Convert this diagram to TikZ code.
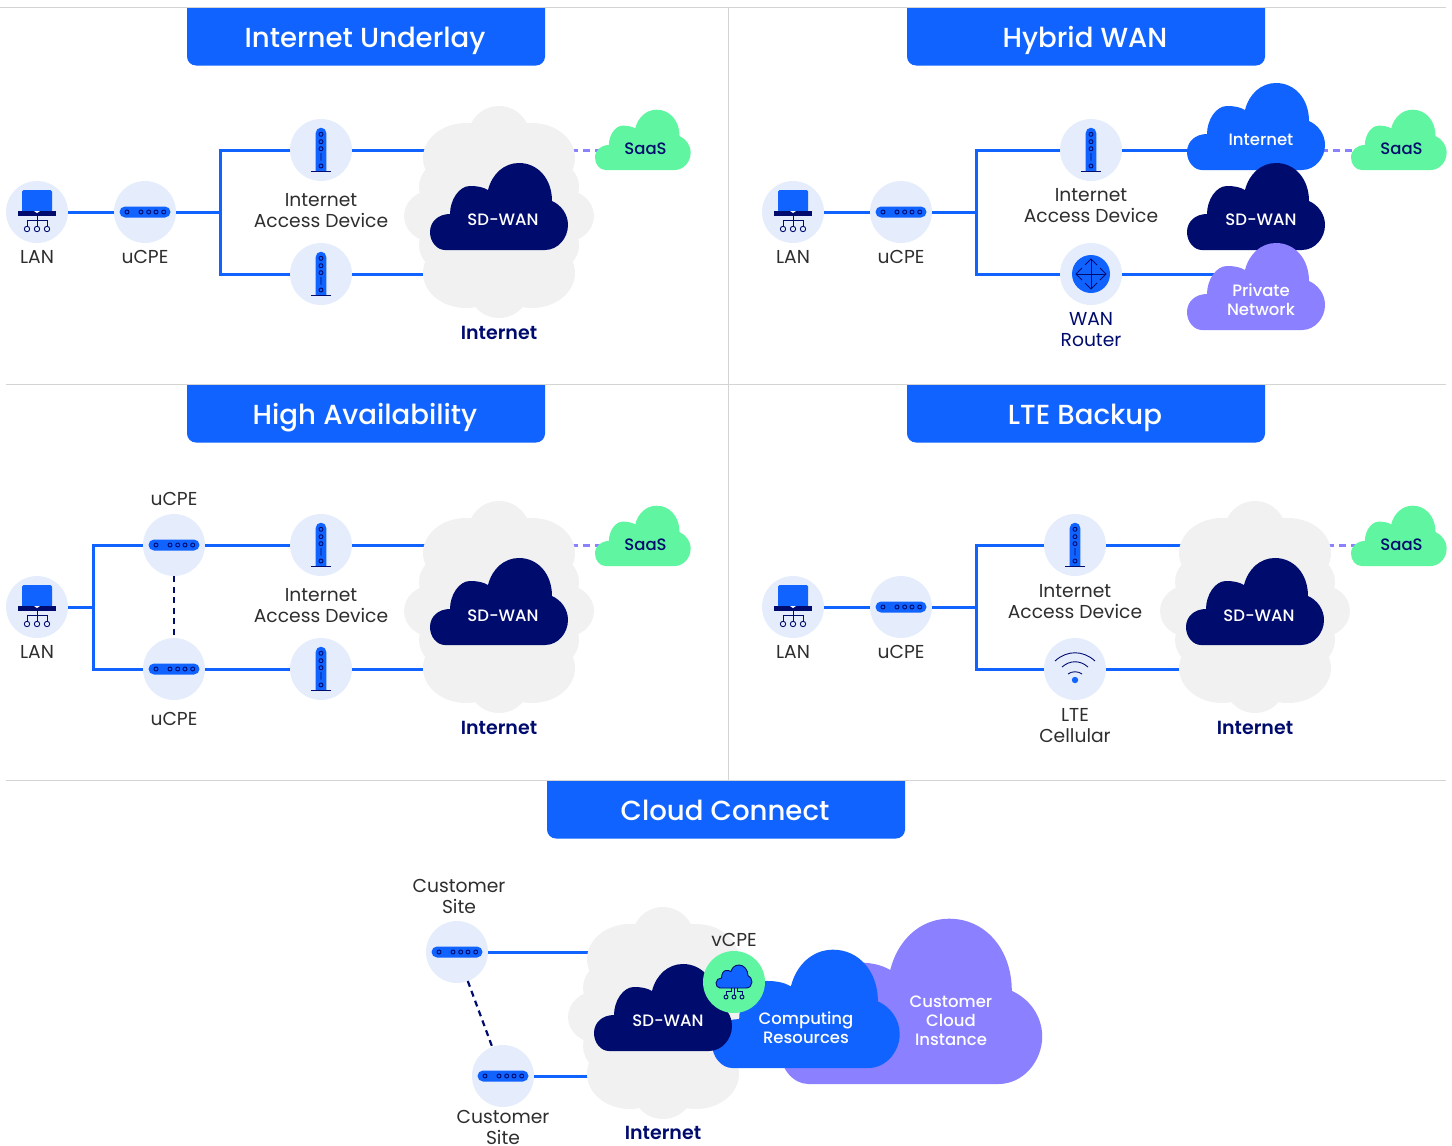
\documentclass[tikz,border=0pt]{standalone}
\usepackage{fontspec}
\setmainfont{Poppins}[UprightFont=* Medium,BoldFont=* SemiBold]
\newfontfamily\lightfont{Poppins}
\definecolor{mainblue}{HTML}{1063FF}
\definecolor{deepnavy}{HTML}{000B6E}
\definecolor{softpurple}{HTML}{8B80FF}
\definecolor{mintgreen}{HTML}{60F5A0}
\definecolor{palegrey}{HTML}{F1F1F1}
\definecolor{paleblue}{HTML}{E5EDFD}
\definecolor{rulegrey}{HTML}{D4D4D4}
\definecolor{labeltext}{HTML}{2E2E2E}
\tikzset{
	device/.style={circle,fill=paleblue,minimum size=62pt,inner sep=0pt,outer sep=0pt},
	link/.style={draw=mainblue,line width=3pt},
	saaslink/.style={draw=softpurple,line width=3pt,dash pattern=on 7pt off 5pt},
	backup/.style={draw=deepnavy,line width=2.2pt,dash pattern=on 6pt off 4.5pt},
	rule/.style={draw=rulegrey,line width=1pt},
	titletext/.style={text=white,anchor=base,font=\fontsize{27.6}{30}\selectfont},
	devlabel/.style={text=labeltext,align=center,inner sep=0pt,font=\lightfont\fontsize{18.7}{21}\selectfont},
	navylabel/.style={devlabel,text=deepnavy},
	netlabel/.style={text=deepnavy,inner sep=0pt,font=\bfseries\fontsize{19}{21}\selectfont},
	cloudtext/.style={text=white,align=center,inner sep=0pt,font=\fontsize{16.5}{19}\selectfont},
	saastext/.style={text=deepnavy,inner sep=0pt,font=\fontsize{16.5}{19}\selectfont},
	iconline/.style={draw=deepnavy,line width=0.9pt},
	titlebar/.pic={
		\fill[mainblue] (0,0) [rounded corners=9pt] -- (0,57.5) -- (358,57.5) [sharp corners] -- (358,0) -- cycle;
	},
	cloudshape/.pic={
		\path[pic actions] (15,0) -- (115,0) .. controls (128,0) and (138,-12) .. (138,-25)
			.. controls (138,-36) and (131,-45) .. (122,-49)
			.. controls (122,-71) and (108,-87) .. (89,-87)
			.. controls (74,-87) and (62,-76) .. (58,-60)
			.. controls (53,-63) and (47,-64) .. (40,-64)
			.. controls (29,-64) and (20,-50) .. (20,-36)
			.. controls (9,-36) and (0,-29) .. (0,-18)
			.. controls (0,-8) and (7,0) .. (15,0) -- cycle;
	},
	netcloud/.pic={
		\fill[palegrey] (0,-75) circle [radius=31pt];
		\fill[palegrey] (0,75) circle [radius=31pt];
		\fill[palegrey] (-33,-54) ellipse [x radius=43pt,y radius=35pt];
		\fill[palegrey] (33,-54) ellipse [x radius=43pt,y radius=35pt];
		\fill[palegrey] (-33,61) ellipse [x radius=43pt,y radius=35pt];
		\fill[palegrey] (33,61) ellipse [x radius=43pt,y radius=35pt];
		\fill[palegrey] (-54,-25) circle [radius=26pt];
		\fill[palegrey] (54,-25) circle [radius=26pt];
		\fill[palegrey] (-54,33) circle [radius=26pt];
		\fill[palegrey] (54,33) circle [radius=26pt];
		\fill[palegrey] (-66,4) ellipse [x radius=29pt,y radius=26pt];
		\fill[palegrey] (66,4) ellipse [x radius=29pt,y radius=26pt];
		\fill[palegrey] (-50,-50) rectangle (50,70);
	},
	lanicon/.pic={
		\fill[mainblue,rounded corners=1.5pt] (-15,-22) rectangle (15,0);
		\fill[deepnavy] (-19,-1) rectangle (19,4);
		\fill[white] (-3,-1) -- (3,-1) -- (0,1) -- cycle;
		\draw[iconline] (0,4) -- (0,8) (-10,8) -- (10,8);
		\draw[iconline] (-10,8) -- (-10,14) (0,8) -- (0,14) (10,8) -- (10,14);
		\draw[iconline] (-10,17) circle [radius=2.7pt] (0,17) circle [radius=2.7pt] (10,17) circle [radius=2.7pt];
	},
	ucpeicon/.pic={
		\fill[mainblue,rounded corners=5.5pt] (-25.5,-5.5) rectangle (25.5,5.5);
		\draw[iconline] (-18,0) circle [radius=2pt] (-4,0) circle [radius=2pt] (3.7,0) circle [radius=2pt]
			(11,0) circle [radius=2pt] (18.7,0) circle [radius=2pt];
	},
	iadicon/.pic={
		\fill[mainblue] (-5.3,21) -- (-5.3,-17) arc [start angle=180,end angle=0,radius=5.3pt] -- (5.3,21) -- cycle;
		\draw[iconline] (-10,21) -- (10,21);
		\draw[iconline] (0,-15.7) circle [radius=2pt] (0,-8.3) circle [radius=2pt] (0,-1.3) circle [radius=2pt]
			(0,3) -- (0,10.7) (0,16) circle [radius=2pt];
	},
	wanicon/.pic={
		\fill[mainblue] (0,0) circle [radius=19pt];
		\draw[iconline] (-15,0) -- (15,0) (0,-15) -- (0,15);
		\draw[iconline] (-6,-9) -- (0,-15) -- (6,-9) (-6,9) -- (0,15) -- (6,9);
		\draw[iconline] (-9,-6) -- (-15,0) -- (-9,6) (9,-6) -- (15,0) -- (9,6);
	},
	lteicon/.pic={
		\fill[mainblue] (0,11) circle [radius=3.2pt];
		\draw[iconline] (-20,-8) .. controls (-8,-19) and (8,-19) .. (20,-8);
		\draw[iconline] (-13,-2) .. controls (-5,-9) and (5,-9) .. (13,-2);
		\draw[iconline] (-7,5) .. controls (-3,2) and (3,2) .. (7,5);
	},
	vcpeicon/.pic={
		% kleine Wolke
		\path[fill=mainblue,iconline] (-14,6) -- (12.5,6) .. controls (15.5,6) and (18,3) .. (18,0)
			.. controls (18,-3) and (16,-5.5) .. (14,-6.5)
			.. controls (14,-12) and (10,-17) .. (5,-17)
			.. controls (1,-17) and (-2,-14.5) .. (-3,-10.5)
			.. controls (-4.5,-11.5) and (-6,-11.5) .. (-8,-11.5)
			.. controls (-10.5,-11.5) and (-12.5,-8) .. (-12.5,-4)
			.. controls (-15.5,-4) and (-18,-2) .. (-18,1)
			.. controls (-18,3.5) and (-16.5,6) .. (-14,6) -- cycle;
		\draw[iconline] (-8,15) circle [radius=2pt] (0,15) circle [radius=2pt] (8,15) circle [radius=2pt];
		\draw[iconline] (0,6) -- (0,13) (-3,6) -- (-3,9) -- (-8,9) -- (-8,13) (3,6) -- (3,9) -- (8,9) -- (8,13);
	},
}
\begin{document}
\begin{tikzpicture}[x=1pt,y=-1pt]
	\useasboundingbox (0,0) rectangle (1452,1146);
	% Trennlinien
	\coordinate (ruleTop) at (0,7);
	\coordinate (ruleTopEnd) at (1446,7);
	\coordinate (ruleMid) at (6,384);
	\coordinate (ruleMidEnd) at (1446,384);
	\coordinate (ruleLow) at (6,780);
	\coordinate (ruleLowEnd) at (1446,780);
	\coordinate (ruleVert) at (728,7);
	\coordinate (ruleVertEnd) at (728,780);
	\draw[rule] (ruleTop) -- (ruleTopEnd);
	\draw[rule] (ruleMid) -- (ruleMidEnd);
	\draw[rule] (ruleLow) -- (ruleLowEnd);
	\draw[rule] (ruleVert) -- (ruleVertEnd);
	\pic at (187,8) {titlebar};
	\pic at (907,8) {titlebar};
	\pic at (187,385) {titlebar};
	\pic at (907,385) {titlebar};
	\pic at (547,781) {titlebar};
	\node[titletext] (titleA) at (365,47) {Internet Underlay};
	\node[titletext] (titleB) at (1085,47) {Hybrid WAN};
	\node[titletext] (titleC) at (365,424) {High Availability};
	\node[titletext] (titleD) at (1085,424) {LTE Backup};
	\node[titletext] (titleE) at (725,820) {Cloud Connect};

	% oben links
	\node[device] (lanA) at (37,212) {};
	\node[device] (ucpeA) at (145,212) {};
	\node[device] (iadA) at (321,150) {};
	\node[device] (iadAb) at (321,274) {};
	\coordinate (jctA) at (220,212);
	\coordinate (inetA) at (499,212);
	\coordinate (saasA) at (645,150);
	\draw[link] (lanA) -- (ucpeA);
	\draw[link] (ucpeA) -- (jctA);
	\draw[link] (iadA) -| (jctA) |- (iadAb);
	\draw[link] (iadA) -- (iadA -| inetA);
	\draw[link] (iadAb) -- (iadAb -| inetA);
	\draw[saaslink] (inetA |- saasA) -- (saasA);
	\pic at (lanA) {lanicon};
	\pic at (ucpeA) {ucpeicon};
	\pic at (iadA) {iadicon};
	\pic at (iadAb) {iadicon};
	\pic at (inetA) {netcloud};
	\pic[fill=deepnavy] at (430,250) {cloudshape};
	\pic[fill=mintgreen,scale=0.693] at (595,170) {cloudshape};
	\node[devlabel] (lblLanA) at (37,257) {LAN};
	\node[devlabel] (lblUcpeA) at (145,257) {uCPE};
	\node[devlabel] (lblIadA) at (321,211) {Internet\\Access Device};
	\node[netlabel] (lblInetA) at (499,333) {Internet};
	\node[cloudtext] (sdwanA) at (503,220) {SD-WAN};
	\node[saastext] (lblSaasA) at (645.5,149) {SaaS};

	% oben rechts
	\node[device] (lanB) at (793,212) {};
	\node[device] (ucpeB) at (901,212) {};
	\node[device] (iadB) at (1091,150) {};
	\node[device] (wanB) at (1091,274) {};
	\coordinate (jctB) at (976,212);
	\coordinate (inetB) at (1261,150);
	\coordinate (privB) at (1261,274);
	\coordinate (saasB) at (1401,150);
	\draw[link] (lanB) -- (ucpeB);
	\draw[link] (ucpeB) -- (jctB);
	\draw[link] (iadB) -| (jctB) |- (wanB);
	\draw[link] (iadB) -- (inetB);
	\draw[link] (wanB) -- (privB);
	\draw[saaslink] (inetB) -- (saasB);
	\pic at (lanB) {lanicon};
	\pic at (ucpeB) {ucpeicon};
	\pic at (iadB) {iadicon};
	\pic at (wanB) {wanicon};
	\pic[fill=mainblue] at (1187,170) {cloudshape};
	\pic[fill=deepnavy] at (1187,250) {cloudshape};
	\pic[fill=softpurple] at (1187,330) {cloudshape};
	\pic[fill=mintgreen,scale=0.693] at (1351,170) {cloudshape};
	\node[devlabel] (lblLanB) at (793,257) {LAN};
	\node[devlabel] (lblUcpeB) at (901,257) {uCPE};
	\node[devlabel] (lblIadB) at (1091,206) {Internet\\Access Device};
	\node[navylabel] (lblWanB) at (1091,330) {WAN\\Router};
	\node[cloudtext] (inetTextB) at (1261,140) {Internet};
	\node[cloudtext] (sdwanB) at (1261,220) {SD-WAN};
	\node[cloudtext] (privTextB) at (1261,299.5) {Private\\Network};
	\node[saastext] (lblSaasB) at (1401.5,149) {SaaS};

	% unten links
	\node[device] (lanC) at (37,607) {};
	\node[device] (ucpeC) at (174,545) {};
	\node[device] (ucpeCb) at (174,669) {};
	\node[device] (iadC) at (321,545) {};
	\node[device] (iadCb) at (321,669) {};
	\coordinate (jctC) at (93,607);
	\coordinate (inetC) at (499,607);
	\coordinate (saasC) at (645,545);
	\draw[link] (lanC) -- (jctC);
	\draw[link] (ucpeC) -| (jctC) |- (ucpeCb);
	\draw[link] (ucpeC) -- (iadC);
	\draw[link] (ucpeCb) -- (iadCb);
	\draw[backup] (ucpeC) -- (ucpeCb);
	\draw[link] (iadC) -- (iadC -| inetC);
	\draw[link] (iadCb) -- (iadCb -| inetC);
	\draw[saaslink] (inetC |- saasC) -- (saasC);
	\pic at (lanC) {lanicon};
	\pic at (ucpeC) {ucpeicon};
	\pic at (ucpeCb) {ucpeicon};
	\pic at (iadC) {iadicon};
	\pic at (iadCb) {iadicon};
	\pic at (inetC) {netcloud};
	\pic[fill=deepnavy] at (430,645) {cloudshape};
	\pic[fill=mintgreen,scale=0.693] at (595,566) {cloudshape};
	\node[devlabel] (lblLanC) at (37,652) {LAN};
	\node[devlabel] (lblUcpeC) at (174,499) {uCPE};
	\node[devlabel] (lblUcpeCb) at (174,719) {uCPE};
	\node[devlabel] (lblIadC) at (321,606) {Internet\\Access Device};
	\node[netlabel] (lblInetC) at (499,728) {Internet};
	\node[cloudtext] (sdwanC) at (503,616) {SD-WAN};
	\node[saastext] (lblSaasC) at (645.5,545) {SaaS};

	% unten rechts
	\node[device] (lanD) at (793,607) {};
	\node[device] (ucpeD) at (901,607) {};
	\node[device] (iadD) at (1075,545) {};
	\node[device] (lteD) at (1075,669) {};
	\coordinate (jctD) at (976,607);
	\coordinate (inetD) at (1255,607);
	\coordinate (saasD) at (1401,545);
	\draw[link] (lanD) -- (ucpeD);
	\draw[link] (ucpeD) -- (jctD);
	\draw[link] (iadD) -| (jctD) |- (lteD);
	\draw[link] (iadD) -- (iadD -| inetD);
	\draw[link] (lteD) -- (lteD -| inetD);
	\draw[saaslink] (inetD |- saasD) -- (saasD);
	\pic at (lanD) {lanicon};
	\pic at (ucpeD) {ucpeicon};
	\pic at (iadD) {iadicon};
	\pic at (lteD) {lteicon};
	\pic at (inetD) {netcloud};
	\pic[fill=deepnavy] at (1186,645) {cloudshape};
	\pic[fill=mintgreen,scale=0.693] at (1351,566) {cloudshape};
	\node[devlabel] (lblLanD) at (793,652) {LAN};
	\node[devlabel] (lblUcpeD) at (901,652) {uCPE};
	\node[devlabel] (lblIadD) at (1075,602) {Internet\\Access Device};
	\node[devlabel] (lblLteD) at (1075,726) {LTE\\Cellular};
	\node[netlabel] (lblInetD) at (1255,728) {Internet};
	\node[cloudtext] (sdwanD) at (1259,616) {SD-WAN};
	\node[saastext] (lblSaasD) at (1401.5,545) {SaaS};

	% unten Mitte
	\node[device] (siteE) at (457,952) {};
	\node[device] (siteEb) at (503,1076) {};
	\coordinate (inetE) at (663,1013);
	\draw[link] (siteE) -- (siteE -| inetE);
	\draw[link] (siteEb) -- (siteEb -| inetE);
	\draw[backup] (siteE) -- (siteEb);
	\pic at (siteE) {ucpeicon};
	\pic at (siteEb) {ucpeicon};
	\pic at (inetE) {netcloud};
	\pic[fill=softpurple,scale=1.9] at (780,1084) {cloudshape};
	\pic[fill=mainblue,scale=1.36] at (712,1068) {cloudshape};
	\pic[fill=deepnavy] at (594,1051) {cloudshape};
	\node[device,fill=mintgreen] (vcpeE) at (734,982) {};
	\pic at (vcpeE) {vcpeicon};
	\node[devlabel] (lblSiteE) at (459,896) {Customer\\Site};
	\node[devlabel] (lblSiteEb) at (503,1127.5) {Customer\\Site};
	\node[devlabel] (lblVcpeE) at (734,940) {vCPE};
	\node[netlabel] (lblInetE) at (663,1133) {Internet};
	\node[cloudtext] (sdwanE) at (668,1021) {SD-WAN};
	\node[cloudtext] (compE) at (806,1028) {Computing\\Resources};
	\node[cloudtext] (custE) at (951,1020.5) {Customer\\Cloud\\Instance};
\end{tikzpicture}
\end{document}
